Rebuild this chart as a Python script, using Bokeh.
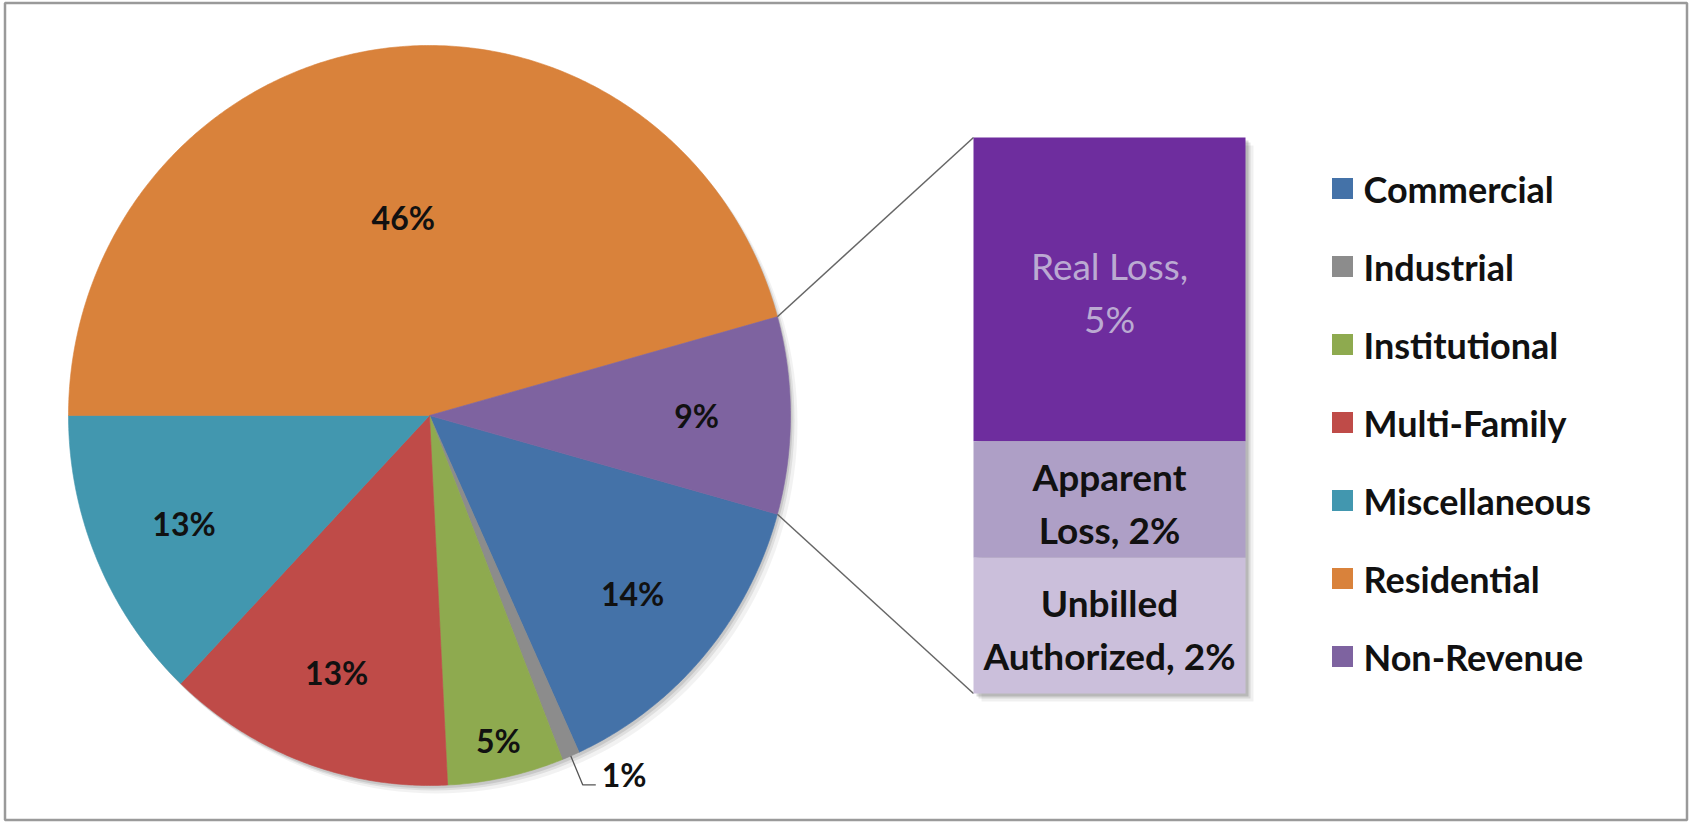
import math
from bokeh.plotting import figure
from bokeh.models import Range1d
from bokeh.core.properties import value
from bokeh.embed import file_html
from bokeh.resources import INLINE

# ---------------- data ----------------
categories = ["Commercial", "Industrial", "Institutional", "Multi-Family",
              "Miscellaneous", "Residential", "Non-Revenue"]
shares = [13.9, 0.8, 5.2, 12.9, 12.9, 45.7, 8.6]          # % of total use
colors = ["#4472A8", "#8C8C8C", "#8EAA4F", "#BF4B48",
          "#4297AF", "#D9823B", "#7E63A0"]

bar_categories = ["Real Loss", "Apparent Loss", "Unbilled Authorized"]
bar_shares = [4.7, 1.8, 2.1]                                # split of Non-Revenue
bar_colors = ["#6E2D9E", "#AE9FC6", "#CBBFDB"]
bar_text_colors = ["#BBAAD2", "#111111", "#111111"]
bar_label_lines = [["Real Loss,", "{p}"], ["Apparent", "Loss, {p}"],
                   ["Unbilled", "Authorized, {p}"]]

# ---------------- layout ----------------
W, H = 1691, 822
CX, CY = 429, H - 415
RX, RY = 361, 370
BAR_L, BAR_R, BAR_TOP, BAR_BOT = 973, 1245, H - 137, H - 693
FONT = value("Lato")

p = figure(width=W, height=H, x_range=Range1d(0, W), y_range=Range1d(0, H),
           output_backend="svg", toolbar_location=None, min_border=0)
p.axis.visible = False
p.grid.visible = False
p.outline_line_color = None
p.background_fill_color = "white"
p.border_fill_color = "white"

def ell(t_deg, r=1.0):
    t = math.radians(t_deg)
    return CX + r * RX * math.cos(t), CY + r * RY * math.sin(t)

# ---- pie angles (clockwise, Non-Revenue centred on the right) ----
nr_idx = categories.index("Non-Revenue")
total = sum(shares)
start = -shares[nr_idx] / total * 180.0
angles = {}
a = start
for i, (c, v) in enumerate(zip(categories, shares)):
    if i == nr_idx:
        continue
    span = v / total * 360.0
    angles[i] = (a, a - span)
    a -= span
angles[nr_idx] = (a, a - shares[nr_idx] / total * 360.0)

# shadow under pie
for off, alpha in [((7, -8), 0.05), ((4, -5), 0.08), ((2, -3), 0.10)]:
    xs = [CX + off[0] + RX * math.cos(math.radians(t)) for t in range(0, 361, 2)]
    ys = [CY + off[1] + RY * math.sin(math.radians(t)) for t in range(0, 361, 2)]
    p.patch(xs, ys, fill_color="black", fill_alpha=alpha, line_color=None)

pxs, pys, pcol = [], [], []
for i in range(len(categories)):
    a0, a1 = angles[i]
    n = max(4, int(abs(a0 - a1) / 0.5))
    xs, ys = [CX], [CY]
    for k in range(n + 1):
        x, y = ell(a0 + (a1 - a0) * k / n)
        xs.append(x); ys.append(y)
    pxs.append(xs); pys.append(ys); pcol.append(colors[i])
p.patches(pxs, pys, fill_color=pcol, line_color=pcol, line_width=0.6)

# pie labels
lx, ly, lt = [], [], []
for i, v in enumerate(shares):
    a0, a1 = angles[i]
    mid = (a0 + a1) / 2
    txt = f"{round(v / total * 100)}%"
    pct = v / total * 100
    if pct < 2:
        # outside label with leader line
        ex, ey = ell(mid, 1.0)
        kx, ky = ell(mid, 1.085)
        p.line([ex, kx, kx + 13], [ey, ky, ky], line_color="#555555", line_width=1.3)
        p.text([kx + 19], [ky + 10], [txt], text_align="left", text_baseline="middle",
               text_font=FONT, text_font_style="bold", text_font_size="32px",
               text_color="#111111")
        continue
    r = 0.74
    if pct > 40:
        r = 0.54
    elif pct < 8:
        r = 0.9
    x, y = ell(mid, r)
    lx.append(x); ly.append(y); lt.append(txt)
p.text(lx, ly, lt, text_align="center", text_baseline="middle", text_font=FONT,
       text_font_style="bold", text_font_size="32px", text_color="#111111")

# connector lines from Non-Revenue slice to bar
na0, na1 = angles[nr_idx]
x0, y0 = ell(na0)
x1, y1 = ell(na1)
p.segment([x0, x1], [y0, y1], [BAR_L, BAR_L], [BAR_TOP, BAR_BOT],
          line_color="#666666", line_width=1.5)

# ---- stacked bar ----
k = (BAR_TOP - BAR_BOT) / sum(bar_shares)
for off, alpha in [((8, -8), 0.06), ((5, -5), 0.10), ((3, -3), 0.14)]:
    p.quad(left=[BAR_L + off[0]], right=[BAR_R + off[0]], top=[BAR_TOP + off[1]],
           bottom=[BAR_BOT + off[1]], fill_color="black", fill_alpha=alpha, line_color=None)
tops, bots = [], []
cur = BAR_TOP
for v in bar_shares:
    tops.append(cur)
    cur -= v * k
    bots.append(cur)
p.quad(left=[BAR_L] * 3, right=[BAR_R] * 3, top=tops, bottom=bots,
       fill_color=bar_colors, line_color=None)
bx = (BAR_L + BAR_R) / 2
for i, v in enumerate(bar_shares):
    pct = f"{round(v / total * 100)}%"
    lines = [s.format(p=pct) for s in bar_label_lines[i]]
    cy = (tops[i] + bots[i]) / 2 - 3
    step = 53
    ys = [cy + step / 2, cy - step / 2]
    p.text([bx] * 2, ys, lines, text_align="center", text_baseline="middle",
           text_font=FONT, text_font_style="normal" if i == 0 else "bold",
           text_font_size="37px", text_color=bar_text_colors[i])

# ---- legend ----
LEG_X, LEG_Y0, LEG_STEP = 1342, H - 188, 78
leg_y = [LEG_Y0 - j * LEG_STEP for j in range(len(categories))]
p.scatter([LEG_X] * len(categories), leg_y, marker="square", size=21,
          fill_color=colors, line_color=None)
p.text([LEG_X + 21] * len(categories), leg_y, categories, text_align="left",
       text_baseline="middle", text_font=FONT, text_font_style="bold",
       text_font_size="36px", text_color="#111111")

# ---- frame ----
p.quad(left=[4.5], right=[1686.5], top=[H - 2.5], bottom=[H - 819.5],
       fill_color=None, line_color="#9A9A9A", line_width=2.5)

open("out.html", "w").write(file_html(p, INLINE))
